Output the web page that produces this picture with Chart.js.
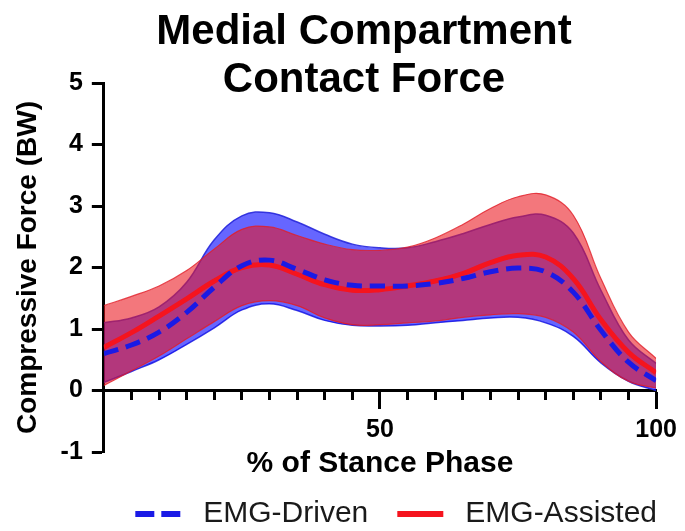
<!DOCTYPE html>
<html lang="en">
<head>
  <meta charset="UTF-8" />
  <title>Medial Compartment Contact Force</title>
  <script src="https://cdn.jsdelivr.net/npm/chart.js"></script>
  <style>
    * { margin: 0; padding: 0; box-sizing: border-box; }
    html, body { width: 685px; height: 531px; background: #fff; overflow: hidden; }
  </style>
</head>
<body>
  <canvas id="forceChart" width="685" height="531"></canvas>

  <script>
    // % of stance phase
    const stance = [0, 5, 10, 15, 20, 25, 30, 35, 40, 45, 50, 55, 60, 65, 70, 75, 80, 85, 90, 95, 100];

    // EMG-Driven (mean and +/- SD band)
    const drivenMean  = [0.60, 0.74, 0.95, 1.27, 1.68, 2.03, 2.12, 1.97, 1.80, 1.71, 1.70, 1.70, 1.74, 1.82, 1.93, 1.99, 1.93, 1.60, 0.98, 0.46, 0.16];
    const drivenUpper = [1.10, 1.18, 1.36, 1.76, 2.45, 2.84, 2.89, 2.74, 2.54, 2.38, 2.32, 2.32, 2.42, 2.55, 2.70, 2.82, 2.85, 2.56, 1.63, 0.82, 0.44];
    const drivenLower = [0.13, 0.31, 0.50, 0.75, 1.02, 1.31, 1.41, 1.30, 1.14, 1.06, 1.05, 1.06, 1.10, 1.14, 1.18, 1.19, 1.10, 0.88, 0.45, 0.15, 0.00];

    // EMG-Assisted (mean and +/- SD band)
    const assistedMean  = [0.70, 0.94, 1.21, 1.49, 1.78, 2.00, 2.04, 1.89, 1.72, 1.63, 1.64, 1.70, 1.78, 1.90, 2.08, 2.20, 2.17, 1.82, 1.15, 0.62, 0.29];
    const assistedUpper = [1.38, 1.53, 1.70, 1.95, 2.30, 2.62, 2.66, 2.52, 2.38, 2.29, 2.28, 2.33, 2.48, 2.70, 2.96, 3.15, 3.18, 2.85, 1.82, 0.95, 0.52];
    const assistedLower = [0.08, 0.32, 0.56, 0.84, 1.12, 1.38, 1.46, 1.38, 1.18, 1.07, 1.07, 1.10, 1.13, 1.19, 1.23, 1.25, 1.19, 0.95, 0.47, 0.15, 0.04];

    const xLabels = [50, 100];
    const titleLines = ['Medial Compartment', 'Contact Force'];

    const FONT = '"Liberation Sans", Arial, Helvetica, sans-serif';
    Chart.defaults.font.family = FONT;
    Chart.defaults.color = '#000';

    const pts = ys => stance.map((x, i) => ({ x: x, y: ys[i] }));

    // little line images for the legend (line sits at the right of the box)
    const LEG_W = 72;
    function legendLine(color, dash) {
      const c = document.createElement('canvas');
      c.width = LEG_W; c.height = 8;
      const g = c.getContext('2d');
      g.strokeStyle = color;
      g.lineWidth = 6;
      g.setLineDash(dash);
      g.beginPath();
      g.moveTo(LEG_W - 53, 4);
      g.lineTo(LEG_W - 7, 4);
      g.stroke();
      return c;
    }

    // two line title, centred over the plot like the original
    const titlePlugin = {
      id: 'twoLineTitle',
      afterDraw(chart) {
        const ctx = chart.ctx;
        ctx.save();
        ctx.font = 'bold 42px ' + FONT;
        ctx.fillStyle = '#000';
        ctx.textAlign = 'center';
        ctx.textBaseline = 'alphabetic';
        titleLines.forEach((t, i) => ctx.fillText(t, 364, 44 + i * 48));
        ctx.restore();
      }
    };

    const ctx = document.getElementById('forceChart').getContext('2d');
    new Chart(ctx, {
      type: 'line',
      data: {
        datasets: [
          {
            label: 'EMG-Driven',
            data: pts(drivenMean),
            borderColor: '#1a1ae6',
            borderWidth: 5,
            borderDash: [15, 8],
            pointRadius: 0,
            pointStyle: legendLine('#1a1ae6', [19, 7]),
            fill: false,
            tension: 0.4,
            order: 1
          },
          {
            label: 'EMG-Assisted',
            data: pts(assistedMean),
            borderColor: '#f5141e',
            borderWidth: 5,
            pointRadius: 0,
            pointStyle: legendLine('#f5141e', []),
            fill: false,
            tension: 0.4,
            order: 2
          },
          {
            label: 'EMG-Driven lower',
            data: pts(drivenLower),
            borderColor: 'rgba(40,40,220,0.9)',
            borderWidth: 1.5,
            pointRadius: 0,
            fill: false,
            tension: 0.4,
            order: 6
          },
          {
            label: 'EMG-Driven upper',
            data: pts(drivenUpper),
            borderColor: 'rgba(40,40,220,0.9)',
            borderWidth: 1.5,
            backgroundColor: 'rgba(0,0,255,0.6)',
            pointRadius: 0,
            fill: 2,
            tension: 0.4,
            order: 5
          },
          {
            label: 'EMG-Assisted lower',
            data: pts(assistedLower),
            borderColor: 'rgba(225,30,40,0.8)',
            borderWidth: 1.2,
            pointRadius: 0,
            fill: false,
            tension: 0.4,
            order: 4
          },
          {
            label: 'EMG-Assisted upper',
            data: pts(assistedUpper),
            borderColor: 'rgba(225,30,40,0.8)',
            borderWidth: 1.2,
            backgroundColor: 'rgba(235,20,30,0.58)',
            pointRadius: 0,
            fill: 4,
            tension: 0.4,
            order: 3
          }
        ]
      },
      options: {
        responsive: false,
        animation: false,
        layout: { padding: { top: 83, right: 18, left: 0, bottom: 0 } },
        plugins: {
          title: { display: false },
          tooltip: { enabled: false },
          legend: {
            position: 'bottom',
            align: 'end',
            maxHeight: 42,
            labels: {
              usePointStyle: true,
              pointStyleWidth: LEG_W,
              padding: 10,
              color: '#1a1a1a',
              font: { size: 30, weight: 'normal' },
              filter: item => item.datasetIndex <= 1
            }
          }
        },
        scales: {
          x: {
            type: 'linear',
            position: { y: 0 },
            min: 0,
            max: 100,
            border: { display: true, color: '#000', width: 3 },
            grid: { drawOnChartArea: false, color: '#000', tickLength: 8, tickWidth: 3 },
            ticks: { stepSize: 5, autoSkip: false, callback: () => '' }
          },
          x2: {
            type: 'linear',
            position: { y: 0 },
            min: 0,
            max: 100,
            border: { display: true, color: '#000', width: 3 },
            grid: { drawOnChartArea: false, color: '#000', tickLength: 17, tickWidth: 3 },
            ticks: {
              stepSize: 50,
              autoSkip: false,
              maxRotation: 0,
              padding: 8,
              color: '#000',
              font: { size: 25, weight: 'bold' },
              callback: v => xLabels.includes(v) ? String(v) : ''
            }
          },
          xTitle: {
            type: 'linear',
            position: 'bottom',
            min: 0,
            max: 100,
            border: { display: false },
            grid: { display: false, drawTicks: false },
            ticks: { display: false },
            title: {
              display: true,
              text: '% of Stance Phase',
              color: '#000',
              font: { size: 30, weight: 'bold', lineHeight: 1 },
              padding: { top: -3, bottom: 10 }
            }
          },
          y: {
            min: -1,
            max: 5,
            border: { display: true, color: '#000', width: 3 },
            grid: { drawOnChartArea: false, color: '#000', tickLength: 12, tickWidth: 3 },
            ticks: {
              stepSize: 1,
              padding: 9,
              color: '#000',
              font: { size: 25, weight: 'bold' }
            },
            title: {
              display: true,
              text: 'Compressive Force (BW)',
              color: '#000',
              font: { size: 28, weight: 'bold', lineHeight: 1.2 },
              padding: { top: 11, bottom: 7 }
            }
          }
        }
      },
      plugins: [titlePlugin]
    });
  </script>
</body>
</html>
